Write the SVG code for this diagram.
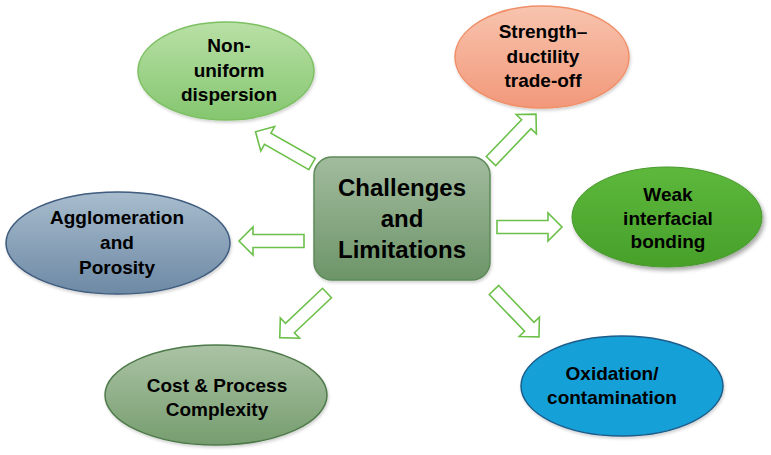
<svg xmlns="http://www.w3.org/2000/svg" width="771" height="455" viewBox="0 0 771 455">
  <defs>
    <linearGradient id="gCenter" x1="0" y1="0" x2="0" y2="1">
      <stop offset="0" stop-color="#a2bb9e"/>
      <stop offset="1" stop-color="#6d9569"/>
    </linearGradient>
    <linearGradient id="gNon" x1="0" y1="0" x2="0" y2="1">
      <stop offset="0" stop-color="#b9e0a6"/>
      <stop offset="1" stop-color="#85c66f"/>
    </linearGradient>
    <linearGradient id="gStr" x1="0" y1="0" x2="0" y2="1">
      <stop offset="0" stop-color="#f8c4ae"/>
      <stop offset="1" stop-color="#f2987a"/>
    </linearGradient>
    <linearGradient id="gAgg" x1="0" y1="0" x2="0" y2="1">
      <stop offset="0" stop-color="#a8bccd"/>
      <stop offset="1" stop-color="#6d89a5"/>
    </linearGradient>
    <linearGradient id="gWeak" x1="0" y1="0" x2="0" y2="1">
      <stop offset="0" stop-color="#5db83c"/>
      <stop offset="1" stop-color="#47a02a"/>
    </linearGradient>
    <linearGradient id="gCost" x1="0" y1="0" x2="0" y2="1">
      <stop offset="0" stop-color="#abc3a5"/>
      <stop offset="1" stop-color="#769d6f"/>
    </linearGradient>
    <filter id="shadow" x="-10%" y="-10%" width="125%" height="130%">
      <feDropShadow dx="2" dy="3" stdDeviation="2" flood-color="#000" flood-opacity="0.35"/>
    </filter>
    <filter id="softShadow" x="-10%" y="-10%" width="125%" height="130%">
      <feDropShadow dx="1" dy="2" stdDeviation="1.5" flood-color="#000" flood-opacity="0.18"/>
    </filter>
    <path id="blockArrow" d="M0,-6.5 H51 V-14 L65,0 L51,14 V6.5 H0 Z"/>
  </defs>
  <style>
    .lbl { font-family: "Liberation Sans", Arial, sans-serif; font-weight: bold; fill: #000; text-anchor: middle; }
    .big { font-size: 24px; }
    .sm { font-size: 19px; }
    .arrow use { fill: #fff; stroke: #6cc04a; stroke-width: 1.6; stroke-linejoin: miter; }
  </style>

  <rect width="771" height="455" fill="#fff"/>

  <!-- connectors: outlined block arrows radiating from the centre box -->
  <g id="connectors" class="arrow">
    <use href="#blockArrow" transform="translate(312,164) rotate(-150.3)"/>
    <use href="#blockArrow" transform="translate(304,241) rotate(180)"/>
    <use href="#blockArrow" transform="translate(491,161) rotate(-46.2)"/>
    <use href="#blockArrow" transform="translate(497,227)"/>
    <use href="#blockArrow" transform="translate(494,290) rotate(46.2)"/>
    <use href="#blockArrow" transform="translate(327,293) rotate(136.6)"/>
  </g>

  <g id="center">
    <rect x="314" y="157" width="176" height="123" rx="18" fill="url(#gCenter)" stroke="#5d8a58" stroke-width="1.5" filter="url(#softShadow)"/>
    <text class="lbl big" x="402" y="196">Challenges</text>
    <text class="lbl big" x="402" y="227">and</text>
    <text class="lbl big" x="402" y="258">Limitations</text>
  </g>

  <g id="non-uniform">
    <ellipse cx="226" cy="71" rx="88" ry="49" fill="url(#gNon)" stroke="#7cc062" stroke-width="1.5" filter="url(#softShadow)"/>
    <text class="lbl sm" x="229" y="52">Non-</text>
    <text class="lbl sm" x="229" y="77">uniform</text>
    <text class="lbl sm" x="229" y="101">dispersion</text>
  </g>

  <g id="strength">
    <ellipse cx="542" cy="57" rx="87" ry="51" fill="url(#gStr)" stroke="#f08f68" stroke-width="1.5" filter="url(#softShadow)"/>
    <text class="lbl sm" x="543" y="38">Strength–</text>
    <text class="lbl sm" x="543" y="63">ductility</text>
    <text class="lbl sm" x="543" y="87">trade-off</text>
  </g>

  <g id="agglomeration">
    <ellipse cx="118" cy="243" rx="112" ry="51" fill="url(#gAgg)" stroke="#3f5b7e" stroke-width="1.5" filter="url(#softShadow)"/>
    <text class="lbl sm" x="117" y="224">Agglomeration</text>
    <text class="lbl sm" x="117" y="249">and</text>
    <text class="lbl sm" x="117" y="274">Porosity</text>
  </g>

  <g id="weak">
    <ellipse cx="667" cy="217" rx="95" ry="50" fill="url(#gWeak)" stroke="#46982a" stroke-width="1" filter="url(#shadow)"/>
    <text class="lbl sm" x="668" y="201">Weak</text>
    <text class="lbl sm" x="668" y="225">interfacial</text>
    <text class="lbl sm" x="668" y="248">bonding</text>
  </g>

  <g id="cost">
    <ellipse cx="216" cy="395" rx="111" ry="50" fill="url(#gCost)" stroke="#4e7a49" stroke-width="1.5" filter="url(#softShadow)"/>
    <text class="lbl sm" x="217" y="392">Cost &amp; Process</text>
    <text class="lbl sm" x="217" y="416">Complexity</text>
  </g>

  <g id="oxidation">
    <ellipse cx="622" cy="386" rx="101" ry="50" fill="#16a0d8" stroke="#1d5d8a" stroke-width="1.5" filter="url(#softShadow)"/>
    <text class="lbl sm" x="612" y="380">Oxidation/</text>
    <text class="lbl sm" x="612" y="404">contamination</text>
  </g>
</svg>
